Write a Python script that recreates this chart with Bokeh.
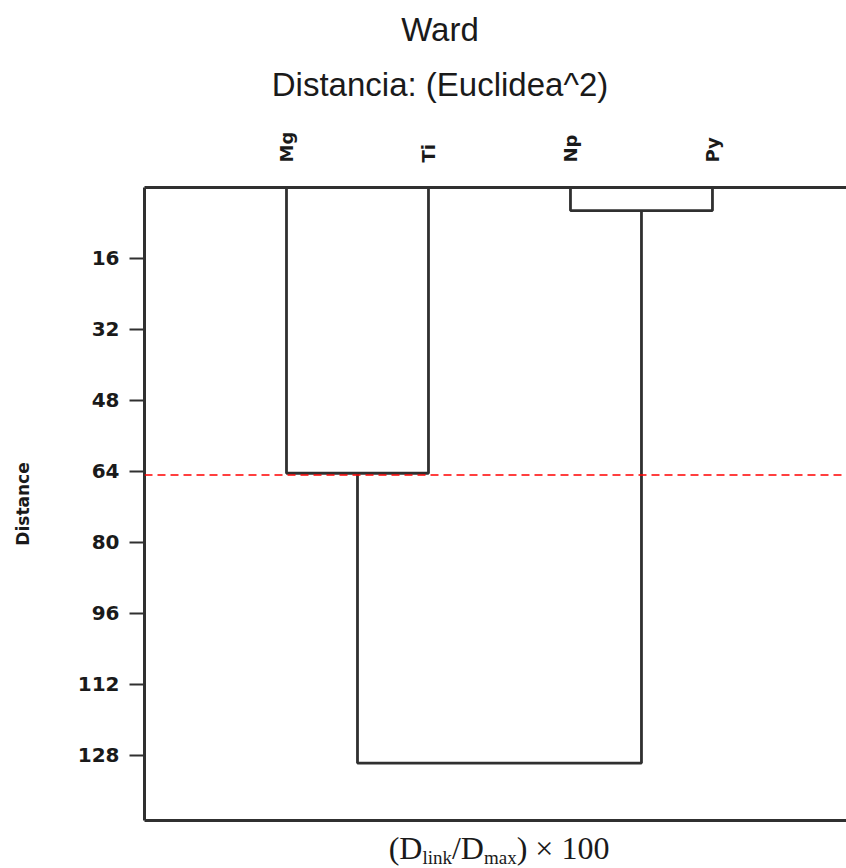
from bokeh.plotting import figure
from bokeh.models import Range1d, LinearAxis, FixedTicker, Span, Div
from bokeh.layouts import column
from bokeh.embed import file_html
from bokeh.resources import INLINE

# ---------------- data ----------------
leaves = ["Mg", "Ti", "Np", "Py"]
# linkage: indices 0..3 are leaves, 4.. are merged clusters (in order)
merge_left = [2, 0, 4]
merge_right = [3, 1, 5]
merge_height = [5.2, 64.4, 129.7]
cut_height = 64.8
y_ticks = [16, 32, 48, 64, 80, 96, 112, 128]
title_text = "Ward"
subtitle_text = "Distancia: (Euclidea^2)"
y_label = "Distance"

# ---------------- derived positions ----------------
n = len(leaves)
node_x = [float(i + 1) for i in range(n)]
node_h = [0.0] * n
xs, ys = [], []
for l, r, h in zip(merge_left, merge_right, merge_height):
    xl, xr = node_x[l], node_x[r]
    xs.append([xl, xl, xr, xr])
    ys.append([node_h[l], h, h, node_h[r]])
    node_x.append((xl + xr) / 2.0)
    node_h.append(h)

LINE = "#303030"
TXT = "#1a1a1a"

TOP_H = 115
BOT_H = 38
FIG_H = 868 - TOP_H - BOT_H

p = figure(width=846, height=FIG_H, output_backend="svg", toolbar_location=None,
           x_axis_location="above", y_axis_location="left",
           x_range=Range1d(0, 4.944), y_range=Range1d(142.65, 0),
           min_border_left=144, min_border_top=187 - TOP_H, min_border_bottom=FIG_H - (820 - TOP_H),
           min_border_right=0, margin=0)
p.outline_line_color = None
p.xgrid.visible = False
p.ygrid.visible = False
p.background_fill_color = "white"
p.border_fill_color = "white"

# top axis with leaf names
xa = p.xaxis[0]
xa.ticker = FixedTicker(ticks=list(range(1, n + 1)))
xa.major_label_overrides = {i + 1: lab for i, lab in enumerate(leaves)}
xa.major_label_orientation = "vertical"
xa.major_tick_out = 0
xa.major_tick_in = 0
xa.minor_tick_out = 0
xa.minor_tick_in = 0
xa.major_label_standoff = 25
xa.major_label_text_font = "DejaVu Sans"
xa.major_label_text_font_style = "bold"
xa.major_label_text_font_size = "18px"
xa.major_label_text_color = TXT
xa.axis_line_width = 3
xa.axis_line_color = LINE

# left axis
ya = p.yaxis[0]
ya.ticker = FixedTicker(ticks=y_ticks)
ya.major_tick_out = 15
ya.major_tick_in = 0
ya.minor_tick_out = 0
ya.minor_tick_in = 0
ya.major_tick_line_width = 2
ya.major_tick_line_color = LINE
ya.major_label_standoff = 10
ya.major_label_text_font = "DejaVu Sans"
ya.major_label_text_font_style = "bold"
ya.major_label_text_font_size = "20px"
ya.major_label_text_color = TXT
ya.axis_line_width = 3
ya.axis_line_color = LINE
ya.axis_label = y_label
ya.axis_label_text_font = "DejaVu Sans"
ya.axis_label_text_font_style = "bold"
ya.axis_label_text_font_size = "17px"
ya.axis_label_text_color = TXT
ya.axis_label_standoff = 42

# bottom axis: frame line only
bx = LinearAxis(ticker=FixedTicker(ticks=[]), major_tick_out=0, major_tick_in=0,
                minor_tick_out=0, minor_tick_in=0,
                axis_line_width=3, axis_line_color=LINE)
p.add_layout(bx, "below")

# dendrogram
p.multi_line(xs, ys, line_color=LINE, line_width=2.8)

# cut line
p.add_layout(Span(location=cut_height, dimension="width", line_color="#ff0000",
                  line_width=1.5, line_dash="8 5"))

# titles above the plot
top_div = Div(
    text=(
        '<div style="width:700px;margin-left:90px;text-align:center;'
        'font-family:\'Liberation Sans\',Arial,sans-serif;font-size:33px;'
        f'line-height:55px;color:{TXT};padding-top:2px;">'
        f'<div>{title_text}</div><div>{subtitle_text}</div></div>'
    ),
    width=846, height=TOP_H, margin=0,
)

# bottom label (D_link/D_max) x 100
sub = 'font-size:19px;vertical-align:-5px;line-height:0;'
bot_div = Div(
    text=(
        '<div style="width:710px;margin-left:144px;text-align:center;'
        'font-family:\'Liberation Serif\',\'Times New Roman\',serif;font-size:32px;'
        f'line-height:32px;color:{TXT};padding-top:2px;white-space:nowrap;">'
        f'(D<span style="{sub}">link</span>/D<span style="{sub}">max</span>) \u00d7 100'
        '</div>'
    ),
    width=846, height=BOT_H, margin=0,
)

layout = column(top_div, p, bot_div, spacing=0, margin=0)
open("out.html", "w").write(file_html(layout, INLINE))
